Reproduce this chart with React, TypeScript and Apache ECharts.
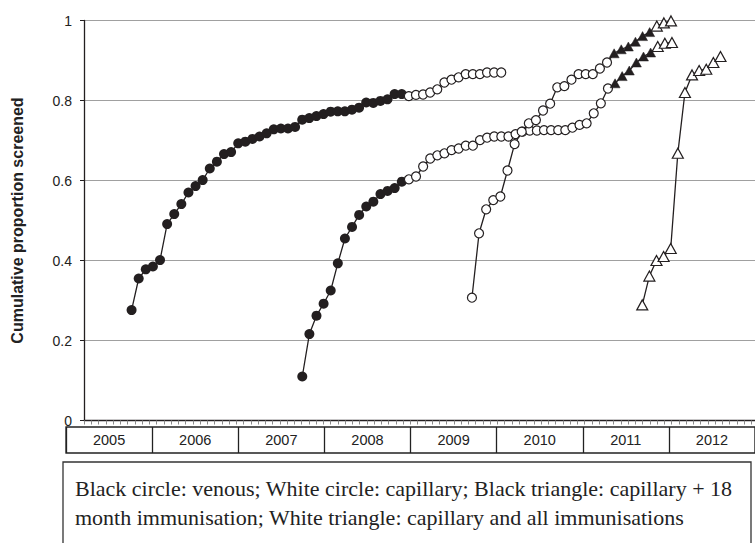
import React, { useEffect, useRef } from "react";
import * as echarts from "echarts";

// ---- data (x in months since Jan 2005, ~30-day sampling) ----
const years = ["2005", "2006", "2007", "2008", "2009", "2010", "2011", "2012"];
const yTicks = [0, 0.2, 0.4, 0.6, 0.8, 1];
const sampleStep = 0.98; // months between successive points (~30 days)

const cohortStarts = [8.56, 32.09, 55.48, 78.96];

// Cohort 1
const c1Venous = [0.276, 0.355, 0.378, 0.385, 0.401, 0.491, 0.516, 0.541, 0.57, 0.586, 0.601, 0.63, 0.647, 0.666, 0.671, 0.693, 0.697, 0.704, 0.71, 0.718, 0.728, 0.73, 0.73, 0.734, 0.752, 0.756, 0.761, 0.766, 0.772, 0.773, 0.773, 0.777, 0.782, 0.795, 0.794, 0.799, 0.803, 0.816, 0.816];
const c1Capillary = [0.811, 0.814, 0.815, 0.82, 0.828, 0.845, 0.852, 0.858, 0.866, 0.866, 0.866, 0.87, 0.87, 0.87];

// Cohort 2
const c2Venous = [0.11, 0.216, 0.262, 0.292, 0.325, 0.393, 0.455, 0.484, 0.514, 0.535, 0.547, 0.566, 0.574, 0.581, 0.597];
const c2Capillary = [0.603, 0.61, 0.635, 0.655, 0.663, 0.668, 0.676, 0.68, 0.687, 0.687, 0.701, 0.707, 0.71, 0.71, 0.71, 0.716, 0.722, 0.725, 0.725, 0.726, 0.726, 0.726, 0.726, 0.732, 0.739, 0.743, 0.768, 0.793, 0.83];
const c2Cap18 = [0.843, 0.861, 0.875, 0.895, 0.91, 0.92];
const c2CapAll = [0.935, 0.943, 0.945];

// Cohort 3
const c3Capillary = [0.307, 0.468, 0.528, 0.551, 0.56, 0.625, 0.691, 0.722, 0.743, 0.751, 0.775, 0.792, 0.833, 0.836, 0.852, 0.866, 0.866, 0.866, 0.88, 0.895];
const c3Cap18 = [0.918, 0.928, 0.935, 0.947, 0.961, 0.971];
const c3CapAll = [0.986, 0.994, 0.999];

// Cohort 4
const c4CapAll = [0.289, 0.361, 0.4, 0.41, 0.43, 0.668, 0.82, 0.864, 0.875, 0.878, 0.895, 0.91];

const captionLines = [
  "Black circle: venous; White circle: capillary; Black triangle: capillary + 18",
  "month immunisation; White triangle: capillary and all immunisations",
];

// ---- styling ----
const INK = "#231f20";
const FONT = "'Liberation Sans', Arial, sans-serif";

type Kind = "venous" | "capillary" | "cap18" | "capAll";
const markerStyles: Record<Kind, any> = {
  venous: { symbol: "circle", symbolSize: 10, itemStyle: { color: INK, borderColor: INK, borderWidth: 0 } },
  capillary: { symbol: "circle", symbolSize: 9, itemStyle: { color: "#ffffff", borderColor: INK, borderWidth: 1.2 } },
  cap18: { symbol: "triangle", symbolSize: [10, 9], itemStyle: { color: INK, borderColor: INK, borderWidth: 0.5 } },
  capAll: { symbol: "triangle", symbolSize: [11, 10], itemStyle: { color: "#ffffff", borderColor: INK, borderWidth: 1.2 } },
};

function buildCohort(start: number, segments: [Kind, number[]][]) {
  const items: any[] = [];
  let i = 0;
  segments.forEach(([kind, vals]) => {
    vals.forEach((v) => {
      items.push({ value: [start + i * sampleStep, v], ...markerStyles[kind] });
      i++;
    });
  });
  return items;
}

const cohorts: [Kind, number[]][][] = [
  [["venous", c1Venous], ["capillary", c1Capillary]],
  [["venous", c2Venous], ["capillary", c2Capillary], ["cap18", c2Cap18], ["capAll", c2CapAll]],
  [["capillary", c3Capillary], ["cap18", c3Cap18], ["capAll", c3CapAll]],
  [["capAll", c4CapAll]],
];

export default function App() {
  const ref = useRef<HTMLDivElement>(null);

  useEffect(() => {
    document.body.style.margin = "0";
    if (!ref.current) return;
    const chart = echarts.init(ref.current, null, { renderer: "svg" });

    const series = cohorts.map((segs, idx) => ({
      type: "line",
      xAxisIndex: 0,
      yAxisIndex: 0,
      data: buildCohort(cohortStarts[idx], segs),
      lineStyle: { color: INK, width: 1.3 },
      showAllSymbol: true,
      z: 3 + idx,
    }));

    chart.setOption({
      animation: false,
      backgroundColor: "#ffffff",
      textStyle: { fontFamily: FONT },
      grid: [
        { left: 84, right: 0, top: 20.5, height: 400 },
        { left: 66, right: -12, top: 427, height: 26, show: true, borderColor: "#222", borderWidth: 1.3, backgroundColor: "transparent" },
      ],
      xAxis: [
        {
          type: "value",
          gridIndex: 0,
          min: 2,
          max: 94.5,
          interval: 1,
          axisLine: { show: true, onZero: false, lineStyle: { color: INK, width: 1.3 } },
          axisTick: { show: true, length: 4, lineStyle: { color: "#8a8a8a", width: 1 } },
          axisLabel: { show: false },
          splitLine: { show: false },
        },
        {
          type: "category",
          gridIndex: 1,
          data: years,
          boundaryGap: true,
          axisLine: { show: false },
          axisTick: { show: false },
          splitLine: { show: true, interval: 0, lineStyle: { color: "#222", width: 1.3 } },
          axisLabel: { inside: true, margin: 13, verticalAlign: "middle", color: "#222", fontSize: 14.5, fontFamily: FONT, interval: 0 },
        },
      ],
      yAxis: [
        {
          type: "value",
          gridIndex: 0,
          min: 0,
          max: 1,
          interval: 0.2,
          name: "Cumulative proportion screened",
          nameLocation: "middle",
          nameGap: 59,
          nameTextStyle: { fontWeight: "bold", fontSize: 16, color: "#222", fontFamily: FONT },
          axisLine: { show: true, lineStyle: { color: INK, width: 1.3 } },
          axisTick: { show: true, length: 4, lineStyle: { color: INK } },
          axisLabel: {
            margin: 12,
            color: "#222",
            fontSize: 14,
            fontFamily: FONT,
            formatter: (v: number) => (yTicks.includes(Math.round(v * 10) / 10) ? String(Math.round(v * 10) / 10) : ""),
          },
          splitLine: { show: true, lineStyle: { color: "#a0a0a0", width: 1 } },
        },
        { type: "value", gridIndex: 1, show: false },
      ],
      graphic: [
        {
          type: "rect",
          shape: { x: 63, y: 462, width: 688, height: 120 },
          style: { fill: "none", stroke: "#333", lineWidth: 1.3 },
        },
        {
          type: "text",
          x: 75,
          y: 474,
          style: {
            text: captionLines.join("\n"),
            font: "22px 'Liberation Serif', 'Times New Roman', serif",
            fill: "#222",
            lineHeight: 29,
          },
        },
      ],
      series,
    });

    return () => chart.dispose();
  }, []);

  return <div ref={ref} style={{ width: 755, height: 543 }} />;
}
